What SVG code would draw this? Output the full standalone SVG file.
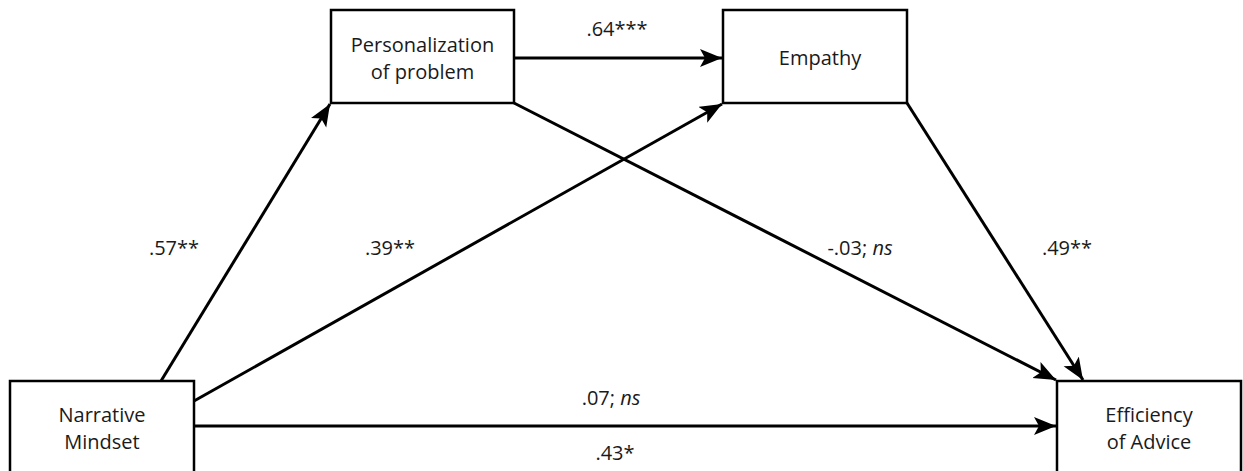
<svg xmlns="http://www.w3.org/2000/svg" width="1243" height="471" viewBox="0 0 1243 471">
<defs>
<marker id="ah" markerUnits="userSpaceOnUse" markerWidth="24" markerHeight="20" refX="22" refY="9" orient="auto">
<path d="M0,0 L22,9 L0,18 L5,9 Z" fill="#000"/>
</marker>
<style>
.box{fill:#fff;stroke:#000;stroke-width:2.5}
.lbl{font-family:"Open Sans","Liberation Sans",sans-serif;font-size:20px;fill:#1a1a1a;text-anchor:middle}
.edge{stroke:#000;stroke-width:3;fill:none;marker-end:url(#ah)}
</style>
</defs>
<rect width="1243" height="471" fill="#fff"/>
<g id="connectors">
<line class="edge" x1="514" y1="58" x2="722" y2="58"/>
<line class="edge" x1="161" y1="381" x2="330" y2="104"/>
<line class="edge" x1="194" y1="401" x2="722" y2="104"/>
<line class="edge" x1="514" y1="103" x2="1056" y2="380"/>
<line class="edge" x1="907" y1="103" x2="1083" y2="380"/>
<line class="edge" x1="194" y1="426" x2="1056" y2="426"/>
<text class="lbl" x="617" y="36">.64***</text>
<text class="lbl" x="174" y="255">.57**</text>
<text class="lbl" x="390" y="255">.39**</text>
<text class="lbl" x="860" y="255">-.03; <tspan font-style="italic">ns</tspan></text>
<text class="lbl" x="1067" y="255">.49**</text>
<text class="lbl" x="611" y="405">.07; <tspan font-style="italic">ns</tspan></text>
<text class="lbl" x="615" y="460">.43*</text>
</g>
<g id="personalization">
<rect class="box" x="331" y="10" width="183" height="93"/>
<text class="lbl" x="422.5" y="52">Personalization</text>
<text class="lbl" x="422.5" y="79">of problem</text>
</g>
<g id="empathy">
<rect class="box" x="723" y="10" width="184" height="93"/>
<text class="lbl" x="820" y="65">Empathy</text>
</g>
<g id="narrative">
<rect class="box" x="10" y="381" width="184" height="100"/>
<text class="lbl" x="102" y="422">Narrative</text>
<text class="lbl" x="102" y="449">Mindset</text>
</g>
<g id="efficiency">
<rect class="box" x="1057" y="381" width="184" height="100"/>
<text class="lbl" x="1149" y="422">Efficiency</text>
<text class="lbl" x="1149" y="449">of Advice</text>
</g>
</svg>
